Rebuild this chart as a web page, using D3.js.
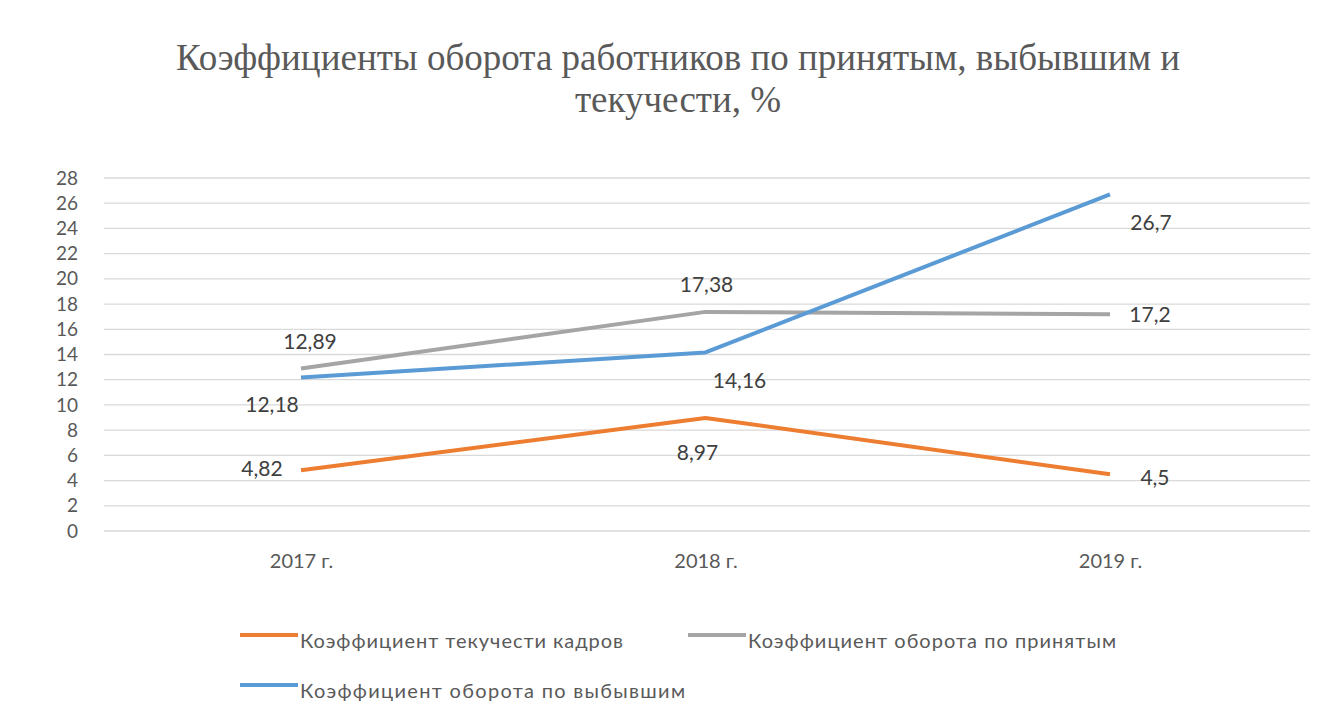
<!DOCTYPE html>
<html>
<head>
<meta charset="utf-8">
<script src="https://cdn.jsdelivr.net/npm/d3@7"></script>
<style>
  body { margin: 0; background: #fff; }
  svg { display: block; }
</style>
</head>
<body>
<script>
// data
var years = ["2017 г.", "2018 г.", "2019 г."];
var seriesNames = ["Коэффициент текучести кадров", "Коэффициент оборота по принятым", "Коэффициент оборота по выбывшим"];
var turnoverVals = [4.82, 8.97, 4.5];
var hiredVals = [12.89, 17.38, 17.2];
var leftVals = [12.18, 14.16, 26.7];
var labelText = [["4,82", "8,97", "4,5"], ["12,89", "17,38", "17,2"], ["12,18", "14,16", "26,7"]];
var yTicks = d3.range(0, 29, 2);
var titleLines = ["Коэффициенты оборота работников по принятым, выбывшим и", "текучести, %"];

// label offsets per point (dx, dy from point)
var labelOffsets = [
  [[-39, -2], [-8, 35], [45, 3]],
  [[9, -27], [1, -27], [40, 0]],
  [[-29, 27], [34, 28], [41, 28]]
];

var colors = ["#ed7d31", "#a5a5a5", "#5b9bd5"];
var series = [turnoverVals, hiredVals, leftVals];
var sansFont = "Lato, 'Open Sans', sans-serif";

var width = 1328, height = 706;
var svg = d3.select("body").append("svg")
  .attr("width", width)
  .attr("height", height);

// title
var titleY = [70, 112];
svg.append("g")
  .selectAll("text")
  .data(titleLines)
  .enter()
  .append("text")
  .attr("x", 678)
  .attr("y", function(d, i){ return titleY[i]; })
  .attr("text-anchor", "middle")
  .style("font-family", "'Liberation Serif', 'DejaVu Serif', serif")
  .style("font-size", "37px")
  .style("fill", "#595959")
  .text(function(d){ return d; });

var x = d3.scalePoint()
  .domain(years)
  .range([301, 1110]);

var y = d3.scaleLinear()
  .domain([0, 28])
  .range([531, 178]);

// gridlines
svg.append("g")
  .selectAll("line")
  .data(yTicks)
  .enter()
  .append("line")
  .attr("x1", 104).attr("x2", 1310)
  .attr("y1", function(d){ return y(d); })
  .attr("y2", function(d){ return y(d); })
  .attr("stroke", "#d9d9d9")
  .attr("stroke-width", 1.3);

// y axis labels
var yAxis = d3.axisLeft(y).tickValues(yTicks).tickSize(0).tickPadding(0);
var yg = svg.append("g").attr("transform", "translate(78,0)").call(yAxis);
yg.select(".domain").remove();
yg.selectAll("text")
  .style("font-family", sansFont)
  .style("font-size", "19px")
  .style("fill", "#595959");

// x axis labels
var xAxis = d3.axisBottom(x).tickSize(0).tickPadding(0);
var xg = svg.append("g").attr("transform", "translate(0,554)").call(xAxis);
xg.select(".domain").remove();
xg.selectAll("text")
  .style("font-family", sansFont)
  .style("font-size", "20px")
  .style("fill", "#595959");

// lines
var line = d3.line()
  .x(function(d, i){ return x(years[i]); })
  .y(function(d){ return y(d); });

series.forEach(function(vals, s){
  svg.append("path")
    .datum(vals)
    .attr("d", line)
    .attr("fill", "none")
    .attr("stroke", colors[s])
    .attr("stroke-width", 4)
    .attr("stroke-linejoin", "round");
});

// data labels
series.forEach(function(vals, s){
  svg.append("g")
    .selectAll("text")
    .data(vals)
    .enter()
    .append("text")
    .attr("x", function(d, i){ return x(years[i]) + labelOffsets[s][i][0]; })
    .attr("y", function(d, i){ return y(d) + labelOffsets[s][i][1]; })
    .attr("text-anchor", "middle")
    .attr("dy", "0.35em")
    .style("font-family", sansFont)
    .style("font-size", "21px")
    .style("fill", "#404040")
    .text(function(d, i){ return labelText[s][i]; });
});

// legend
var legendPos = [[240, 635], [688, 635], [240, 685]];
var legendTextWidths = [323, 368, 385];
var legend = svg.append("g")
  .selectAll("g")
  .data(seriesNames)
  .enter()
  .append("g")
  .attr("transform", function(d, i){ return "translate(" + legendPos[i][0] + "," + legendPos[i][1] + ")"; });

legend.append("line")
  .attr("x1", 0).attr("x2", 58)
  .attr("stroke", function(d, i){ return colors[i]; })
  .attr("stroke-width", 4);

legend.append("text")
  .attr("x", 60)
  .attr("y", 13)
  .attr("textLength", function(d, i){ return legendTextWidths[i]; })
  .attr("lengthAdjust", "spacing")
  .style("font-family", sansFont)
  .style("font-size", "20px")
  .style("fill", "#595959")
  .text(function(d){ return d; });
</script>
</body>
</html>
